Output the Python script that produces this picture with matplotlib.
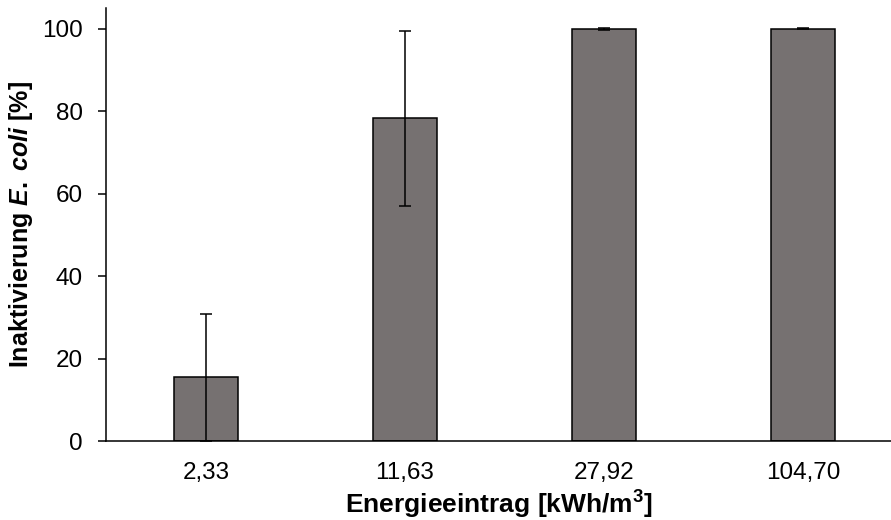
import matplotlib
matplotlib.use('Agg')
import matplotlib.pyplot as plt
import numpy as np

plt.rcParams['font.family'] = ['Liberation Sans', 'DejaVu Sans']
plt.rcParams['mathtext.fontset'] = 'custom'
plt.rcParams['mathtext.it'] = 'Liberation Sans:italic:bold'
plt.rcParams['mathtext.rm'] = 'Liberation Sans:bold'
plt.rcParams['mathtext.bf'] = 'Liberation Sans:bold'

# Energieeintrag und Inaktivierung
categories = ['2,33', '11,63', '27,92', '104,70']
inactivation = [15.4, 78.3, 99.9, 100.0]
errors = [15.3, 21.2, 0.2, 0.1]

fig = plt.figure(figsize=(8.91, 5.2), dpi=100)
ax = fig.add_axes([106/891, 79/520, 785/891, 433/520])

x = np.arange(len(categories))
ax.bar(x, inactivation, 0.32, color='#767171', edgecolor='black', linewidth=1.1,
       yerr=errors, error_kw=dict(ecolor='black', elinewidth=1.1, capsize=4.3, capthick=1.1))

ax.set_xlim(-0.5025, 3.442)
ax.set_ylim(0, 105)
ax.set_yticks([0, 20, 40, 60, 80, 100])
ax.set_xticks(x)
ax.set_xticklabels(categories)
ax.tick_params(axis='x', length=0, pad=15, labelsize=17.5)
ax.tick_params(axis='y', length=5.5, width=1.1, pad=11, labelsize=17.5)

for s in ['top', 'right']:
    ax.spines[s].set_visible(False)
ax.spines['left'].set_linewidth(1.1)
ax.spines['bottom'].set_linewidth(1.1)

ax.set_ylabel(r'Inaktivierung $\it{E.}$ $\it{coli}$ [%]', fontsize=18, fontweight='bold', labelpad=5)
ax.set_xlabel(r'Energieeintrag [kWh/m$^\mathbf{3}$]', fontsize=19, fontweight='bold', labelpad=3.5)

fig.savefig('out.png', dpi=100)
